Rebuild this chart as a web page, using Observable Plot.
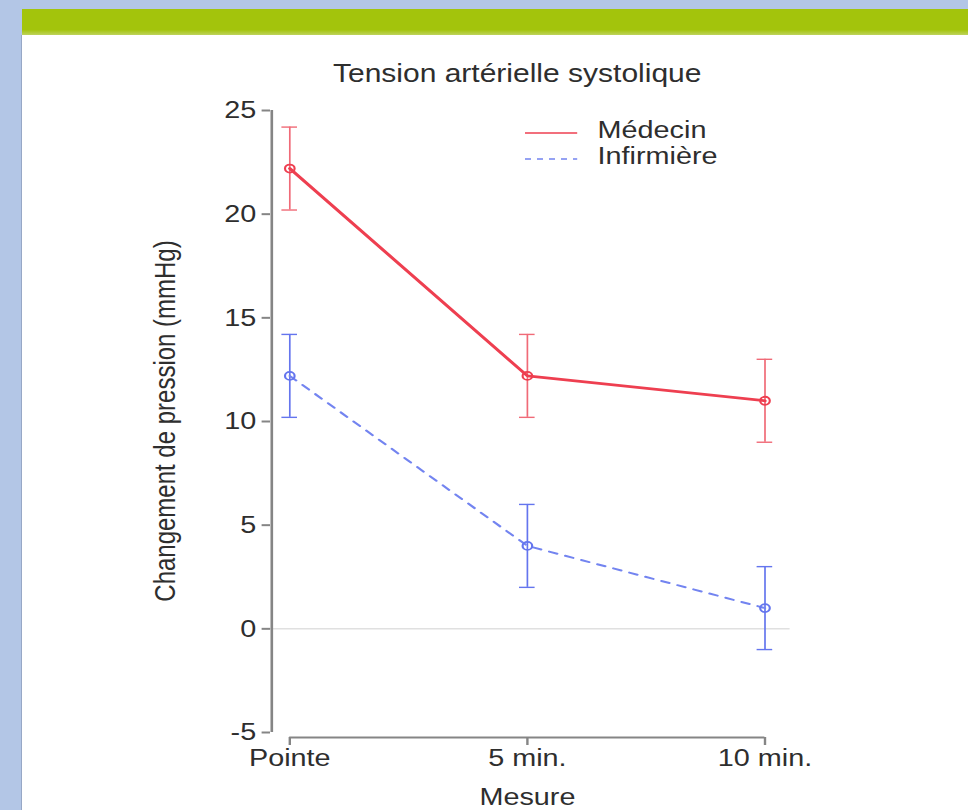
<!DOCTYPE html>
<html>
<head>
<meta charset="utf-8">
<script src="https://cdn.jsdelivr.net/npm/d3@7"></script>
<script src="https://cdn.jsdelivr.net/npm/@observablehq/plot@0.6"></script>
<style>
  html, body { margin: 0; padding: 0; }
  body {
    width: 968px; height: 810px; position: relative; overflow: hidden;
    background: #b3c6e6;
    font-family: "Liberation Sans", Arial, sans-serif;
  }
  #band {
    position: absolute; left: 22px; top: 9px; width: 946px; height: 26px;
    background: linear-gradient(#a3c40c 0%, #a3c40c 80%, #bed35c 100%);
  }
  #panel {
    position: absolute; left: 21px; top: 35px; width: 947px; height: 775px;
    background: #fff; border-left: 1px solid #97a8c6;
  }
  /* the figure is laid out narrow and widened horizontally */
  #fig {
    position: absolute; left: 0; top: 0; width: 807px; height: 810px;
    transform: scaleX(1.2); transform-origin: 0 0;
  }
  #fig svg { position: absolute; left: 0; top: 0; }
</style>
</head>
<body>
<div id="band"></div>
<div id="panel"></div>
<div id="fig"></div>
<script>
// Systolic blood pressure change by measurement time and who measured it
const categories = ["Pointe", "5 min.", "10 min."];
const seriesNames = ["Médecin", "Infirmière"];
const medecinMean = [22.2, 12.2, 11.0];
const medecinLow = [20.2, 10.2, 9.0];
const medecinHigh = [24.2, 14.2, 13.0];
const infirmiereMean = [12.2, 4.0, 1.0];
const infirmiereLow = [10.2, 2.0, -1.0];
const infirmiereHigh = [14.2, 6.0, 3.0];
const yTicks = [-5, 0, 5, 10, 15, 20, 25];
const titleText = "Tension artérielle systolique";
const xTitle = "Mesure";
const yTitle = "Changement de pression (mmHg)";

const toRows = (name, mean, low, high) =>
  categories.map((c, i) => ({serie: name, cat: c, mean: mean[i], low: low[i], high: high[i]}));
const medecin = toRows(seriesNames[0], medecinMean, medecinLow, medecinHigh);
const infirmiere = toRows(seriesNames[1], infirmiereMean, infirmiereLow, infirmiereHigh);

const red = "#ee3f50", redBar = "#f06a77";
const blue = "#7384f0", blueBar = "#6475ee";
const axisGray = "#858585", ink = "#2e2e2e";

function errorBars(rows, color) {
  return [
    Plot.ruleX(rows, {x: "cat", y1: "low", y2: "high", stroke: color, strokeWidth: 1.4}),
    Plot.ruleY(rows, {y: "low", x1: "cat", x2: "cat", inset: -6.5, stroke: color, strokeWidth: 1.4}),
    Plot.ruleY(rows, {y: "high", x1: "cat", x2: "cat", inset: -6.5, stroke: color, strokeWidth: 1.4})
  ];
}

const chart = Plot.plot({
  width: 807,
  height: 810,
  marginTop: 110,
  marginBottom: 73,
  marginLeft: 225,
  marginRight: 149,
  style: {
    background: "transparent",
    fontFamily: '"Liberation Sans", Arial, sans-serif',
    fontSize: "24px",
    color: ink,
    overflow: "visible"
  },
  x: {type: "point", domain: categories, range: [240, 637.5], padding: 0, label: null},
  y: {domain: [-5, 25], range: [732, 110], label: null},
  marks: [
    // zero reference
    Plot.ruleY([0], {stroke: "#e0e0e0", strokeWidth: 1.5}),
    // axis lines spanning first to last tick
    Plot.ruleX([categories[0]], {y1: () => yTicks[0], y2: () => yTicks[yTicks.length - 1], dx: -15, stroke: axisGray, strokeWidth: 2.2}),
    Plot.ruleY([yTicks[0]], {x1: () => categories[0], x2: () => categories[categories.length - 1], dy: 5, stroke: axisGray, strokeWidth: 2}),
    Plot.axisY({ticks: yTicks, tickSize: 7, tickPadding: 5, tickFormat: d => String(d), stroke: axisGray, strokeWidth: 2, fill: ink, label: null}),
    Plot.axisX({tickSize: 8, tickPadding: 3, stroke: axisGray, strokeWidth: 2, fill: ink, label: null}),
    // series
    ...errorBars(medecin, redBar),
    ...errorBars(infirmiere, blueBar),
    Plot.line(medecin, {x: "cat", y: "mean", stroke: red, strokeWidth: 2.8}),
    Plot.line(infirmiere, {x: "cat", y: "mean", stroke: blue, strokeWidth: 2, strokeDasharray: "7,7"}),
    Plot.dot(medecin, {x: "cat", y: "mean", r: 4, stroke: red, strokeWidth: 1.8, fill: "none"}),
    Plot.dot(infirmiere, {x: "cat", y: "mean", r: 4, stroke: blueBar, strokeWidth: 1.8, fill: "none"}),
    // titles
    Plot.text([titleText], {text: d => d, frameAnchor: "top", dx: -11, dy: -46, fontSize: 25, fill: ink}),
    Plot.text([xTitle], {text: d => d, x: [categories[1]], frameAnchor: "bottom", dy: 67, fontSize: 24, fill: ink}),
    Plot.text([yTitle], {text: d => d, frameAnchor: "left", textAnchor: "middle", rotate: -90, dx: -87, dy: -3, fontSize: 24, fill: ink})
  ]
});
document.getElementById("fig").appendChild(chart);

// legend, top right of the plotting area
const legendItems = [
  {name: seriesNames[0], color: red, dash: null, y: 133},
  {name: seriesNames[1], color: blue, dash: "5,5", y: 159}
];
const legend = d3.select("#fig").append("svg")
  .attr("width", 807).attr("height", 200);
const g = legend.selectAll("g").data(legendItems).join("g");
g.append("line")
  .attr("x1", 437.5).attr("x2", 481)
  .attr("y1", d => d.y).attr("y2", d => d.y)
  .attr("stroke", d => d.color).attr("stroke-width", 1.4)
  .attr("stroke-dasharray", d => d.dash);
g.append("text")
  .attr("x", 498).attr("y", d => d.y + 5)
  .attr("fill", ink)
  .style("font", '24px "Liberation Sans", Arial, sans-serif')
  .text(d => d.name);
</script>
</body>
</html>
